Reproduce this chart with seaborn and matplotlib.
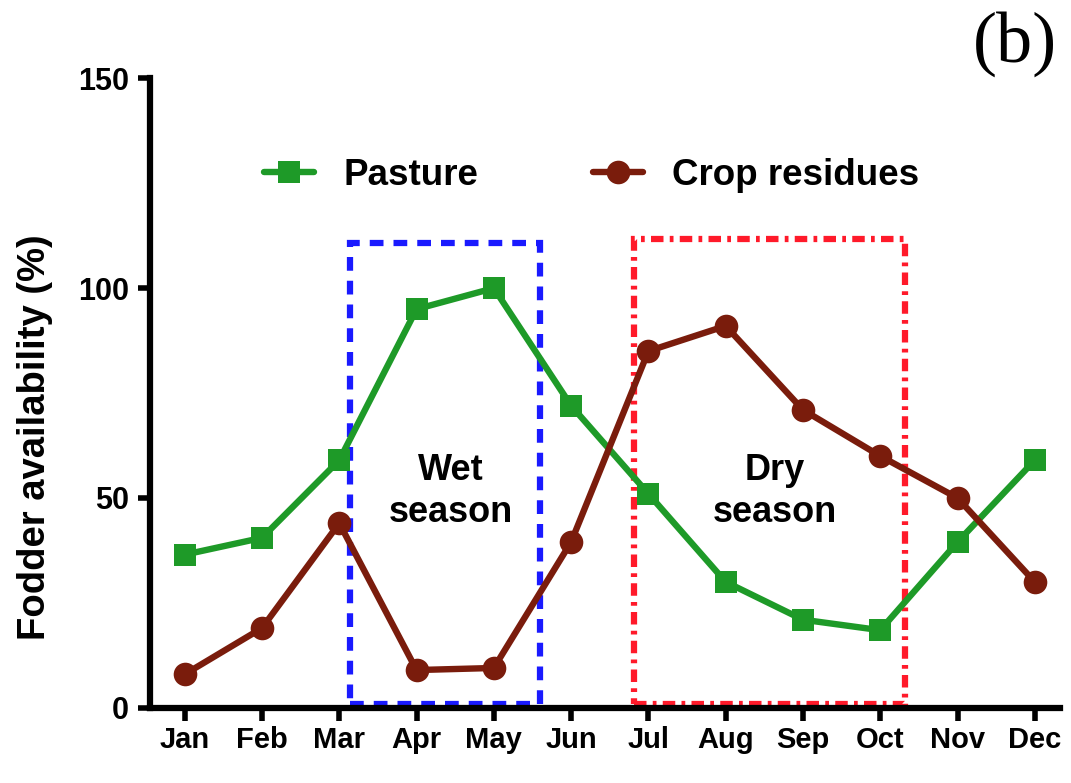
import matplotlib
matplotlib.use("Agg")
import matplotlib.pyplot as plt
from matplotlib.patches import Rectangle
import seaborn as sns
import pandas as pd

months = ["Jan", "Feb", "Mar", "Apr", "May", "Jun",
          "Jul", "Aug", "Sep", "Oct", "Nov", "Dec"]
pasture = [36.5, 40.5, 59, 95, 100, 72, 51, 30, 21, 18.5, 39.5, 59]
crop_residues = [8, 19, 44, 9, 9.5, 39.5, 85, 91, 71, 60, 50, 30]
y_ticks = [0, 50, 100, 150]

sns.set_theme(style="ticks")
plt.rcParams["font.family"] = ["Liberation Sans", "DejaVu Sans"]
plt.rcParams["font.weight"] = "bold"
for key in ("text.color", "axes.labelcolor", "xtick.color", "ytick.color",
            "axes.edgecolor"):
    plt.rcParams[key] = "black"

df = pd.DataFrame({
    "pos": list(range(len(months))) * 2,
    "value": pasture + crop_residues,
    "series": ["Pasture"] * len(months) + ["Crop residues"] * len(months),
})

fig = plt.figure(figsize=(10.71, 7.83), dpi=100)
ax = fig.add_axes([0.140, 0.096, 0.850, 0.804])

green = "#1e9a28"
brown = "#7a1c0c"

sns.lineplot(data=df[df.series == "Pasture"], x="pos", y="value", ax=ax,
             color=green, lw=4.6, marker="s", markersize=16,
             markeredgewidth=0, label="Pasture")
sns.lineplot(data=df[df.series == "Crop residues"], x="pos", y="value", ax=ax,
             color=brown, lw=4.6, marker="o", markersize=17,
             markeredgewidth=0, label="Crop residues")

# season boxes
ax.add_patch(Rectangle((2.14, 0.8), 2.46, 110, fill=False, ec="#1a1aff",
                       lw=4.5, ls=(0, (2.2, 1.6)), zorder=1))
ax.add_patch(Rectangle((5.82, 0.8), 3.5, 111, fill=False, ec="#ff1a2a",
                       lw=4.5, ls=(0, (2.0, 1.0, 0.6, 1.0)), zorder=1))
ax.text(3.45, 51.6, "Wet\nseason", ha="center", va="center", fontsize=26,
        fontweight="bold", linespacing=1.25)
ax.text(7.64, 51.6, "Dry\nseason", ha="center", va="center", fontsize=26,
        fontweight="bold", linespacing=1.25)

ax.set_xlim(-0.45, 11.33)
ax.set_ylim(0, 150)
ax.set_xticks(range(len(months)))
ax.set_xticklabels(months)
ax.set_yticks(y_ticks)
ax.set_xlabel("")
ax.set_ylabel("Fodder availability (%)", fontsize=27.5, fontweight="bold")
ax.yaxis.set_label_coords(-0.107, 0.43)
ax.tick_params(axis="both", width=4, length=9, labelsize=21, pad=4)
ax.tick_params(axis="y", labelsize=22, pad=6)
for lab in ax.get_xticklabels() + ax.get_yticklabels():
    lab.set_fontweight("bold")
sns.despine(ax=ax)
for s in ("left", "bottom"):
    ax.spines[s].set_linewidth(4.5)

leg = ax.legend(loc="center left", bbox_to_anchor=(0.089, 0.845), ncol=2,
                frameon=False, fontsize=26.5, handlelength=1.36,
                columnspacing=3.1, handletextpad=0.8)
for t in leg.get_texts():
    t.set_fontweight("bold")

fig.text(0.948, 0.944, "(b)", fontsize=52, family="Liberation Serif",
         fontweight="normal", ha="center", va="center")

fig.savefig("out.png", dpi=100)
